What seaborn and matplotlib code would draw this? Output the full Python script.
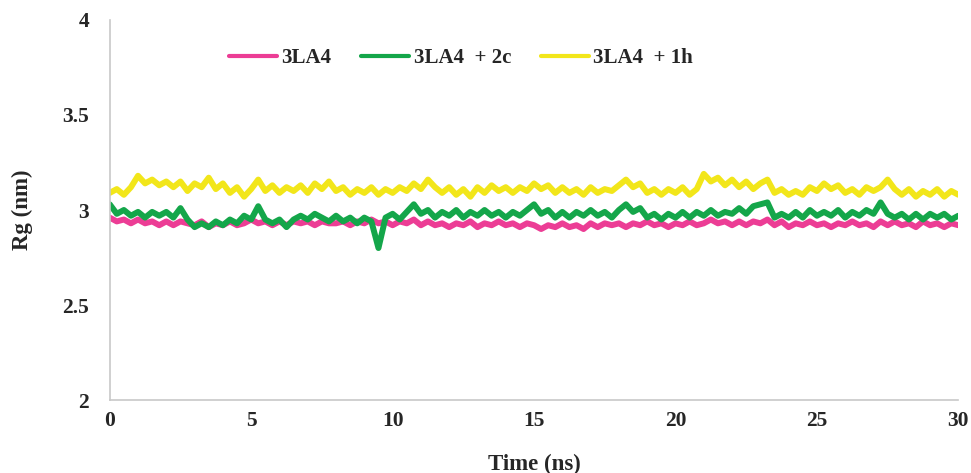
import numpy as np
import pandas as pd
import matplotlib
matplotlib.use("Agg")
import matplotlib.pyplot as plt
import seaborn as sns

# Rg traces, one sample every 0.25 ns
time_ns = np.arange(0, 30.001, 0.25)

rg_apo = [
    2.96, 2.94, 2.95, 2.93, 2.95, 2.93, 2.94, 2.92,
    2.94, 2.92, 2.94, 2.93, 2.92, 2.94, 2.91, 2.93,
    2.92, 2.94, 2.92, 2.93, 2.95, 2.93, 2.94, 2.92,
    2.94, 2.92, 2.94, 2.93, 2.94, 2.92, 2.94, 2.93,
    2.93, 2.94, 2.92, 2.94, 2.93, 2.95, 2.93, 2.94,
    2.92, 2.94, 2.93, 2.95, 2.92, 2.94, 2.92, 2.93,
    2.91, 2.93, 2.92, 2.94, 2.91, 2.93, 2.92, 2.94,
    2.92, 2.93, 2.91, 2.93, 2.92, 2.90, 2.92, 2.91,
    2.93, 2.91, 2.92, 2.90, 2.93, 2.91, 2.93, 2.92,
    2.93, 2.91, 2.93, 2.92, 2.94, 2.92, 2.93, 2.91,
    2.93, 2.92, 2.94, 2.92, 2.93, 2.95, 2.93, 2.94,
    2.92, 2.94, 2.92, 2.94, 2.93, 2.95, 2.92, 2.94,
    2.91, 2.93, 2.92, 2.94, 2.92, 2.93, 2.91, 2.93,
    2.92, 2.94, 2.92, 2.93, 2.91, 2.94, 2.92, 2.94,
    2.92, 2.93, 2.91, 2.94, 2.92, 2.93, 2.91, 2.93,
    2.92,
]

rg_2c = [
    3.03, 2.98, 3.00, 2.97, 2.99, 2.96, 2.99, 2.97,
    2.99, 2.96, 3.01, 2.95, 2.91, 2.93, 2.91, 2.94,
    2.92, 2.95, 2.93, 2.97, 2.95, 3.02, 2.95, 2.93,
    2.95, 2.91, 2.95, 2.97, 2.95, 2.98, 2.96, 2.94,
    2.97, 2.94, 2.96, 2.93, 2.96, 2.94, 2.80, 2.96,
    2.98, 2.95, 2.99, 3.03, 2.98, 3.00, 2.96, 2.99,
    2.97, 3.00, 2.96, 2.99, 2.97, 3.00, 2.97, 2.99,
    2.96, 2.99, 2.97, 3.00, 3.03, 2.98, 3.00, 2.96,
    2.99, 2.96, 2.99, 2.97, 3.00, 2.97, 2.99, 2.96,
    3.00, 3.03, 2.99, 3.01, 2.96, 2.98, 2.95, 2.98,
    2.96, 2.99, 2.96, 2.99, 2.97, 3.00, 2.97, 2.99,
    2.98, 3.01, 2.98, 3.02, 3.03, 3.04, 2.96, 2.98,
    2.96, 2.99, 2.96, 3.00, 2.97, 2.99, 2.97, 3.00,
    2.96, 2.99, 2.97, 3.00, 2.98, 3.04, 2.98, 2.96,
    2.98, 2.95, 2.98, 2.95, 2.98, 2.96, 2.98, 2.95,
    2.97,
]

rg_1h = [
    3.09, 3.11, 3.08, 3.12, 3.18, 3.14, 3.16, 3.13,
    3.15, 3.12, 3.15, 3.10, 3.14, 3.12, 3.17, 3.11,
    3.14, 3.09, 3.12, 3.07, 3.11, 3.16, 3.10, 3.13,
    3.09, 3.12, 3.10, 3.13, 3.09, 3.14, 3.11, 3.15,
    3.10, 3.12, 3.08, 3.11, 3.09, 3.12, 3.08, 3.11,
    3.09, 3.12, 3.10, 3.14, 3.11, 3.16, 3.12, 3.09,
    3.12, 3.08, 3.11, 3.07, 3.12, 3.09, 3.13, 3.10,
    3.12, 3.09, 3.12, 3.10, 3.14, 3.11, 3.13, 3.09,
    3.12, 3.09, 3.11, 3.08, 3.12, 3.09, 3.11, 3.10,
    3.13, 3.16, 3.12, 3.14, 3.09, 3.11, 3.08, 3.11,
    3.09, 3.12, 3.08, 3.11, 3.19, 3.15, 3.17, 3.13,
    3.16, 3.12, 3.15, 3.11, 3.14, 3.16, 3.09, 3.11,
    3.08, 3.10, 3.08, 3.12, 3.10, 3.14, 3.11, 3.13,
    3.09, 3.11, 3.08, 3.12, 3.10, 3.12, 3.16, 3.11,
    3.08, 3.11, 3.07, 3.10, 3.08, 3.11, 3.07, 3.10,
    3.08,
]

labels = ["3LA4", "3LA4  + 2c", "3LA4  + 1h"]
colors = ["#ec3d95", "#14a64a", "#f2e61a"]

df = pd.concat([
    pd.DataFrame({"Time": time_ns, "Rg": vals, "system": lab})
    for lab, vals in zip(labels, [rg_apo, rg_2c, rg_1h])
])

sns.set_style("white")
plt.rcParams["font.family"] = ["Liberation Serif", "DejaVu Serif"]
plt.rcParams["font.weight"] = "bold"

fig = plt.figure(figsize=(9.71, 4.73), dpi=100)
ax = fig.add_axes([0.113, 0.154, 0.874, 0.804])

sns.lineplot(data=df, x="Time", y="Rg", hue="system", hue_order=labels,
             palette=colors, linewidth=4.3, ax=ax, sort=False)

ax.set_xlim(0, 30)
ax.set_ylim(2, 4)
ax.set_xticks([0, 5, 10, 15, 20, 25, 30])
ax.set_yticks([2, 2.5, 3, 3.5, 4])
ax.set_yticklabels(["2", "2.5", "3", "3.5", "4"])
ax.tick_params(labelsize=15.5, length=0)
ax.tick_params(axis="x", pad=8)
ax.tick_params(axis="y", pad=15)
for lab in ax.get_xticklabels() + ax.get_yticklabels():
    lab.set_fontweight("bold")

ax.set_xlabel("Time (ns)", fontsize=16.5, fontweight="bold", labelpad=16)
ax.set_ylabel("Rg (nm)", fontsize=16.5, fontweight="bold", labelpad=21)

for side in ["top", "right"]:
    ax.spines[side].set_visible(False)
for side in ["left", "bottom"]:
    ax.spines[side].set_color("#c8c8c8")
    ax.spines[side].set_linewidth(1.2)

leg = ax.legend(loc="center", bbox_to_anchor=(0.414, 0.899), ncol=3, frameon=False,
                handlelength=2.3, handletextpad=0.2, columnspacing=1.45,
                prop={"weight": "bold", "size": 15})
for line in leg.get_lines():
    line.set_linewidth(3)

fig.savefig("out.png", dpi=100)
